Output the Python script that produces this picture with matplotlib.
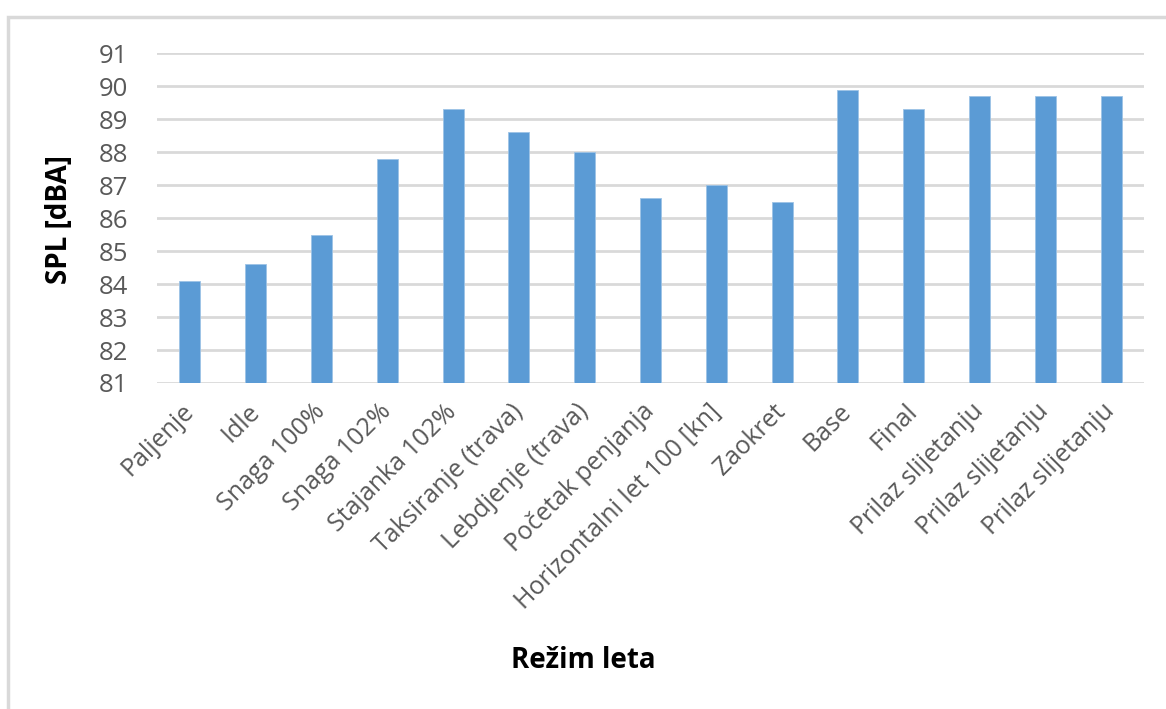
import matplotlib.pyplot as plt
from matplotlib.patches import Rectangle

# flight regimes and measured noise level
rezimi = ["Paljenje", "Idle", "Snaga 100%", "Snaga 102%", "Stajanka 102%",
          "Taksiranje (trava)", "Lebdjenje (trava)", "Početak penjanja",
          "Horizontalni let 100 [kn]", "Zaokret", "Base", "Final",
          "Prilaz slijetanju", "Prilaz slijetanju", "Prilaz slijetanju"]
spl = [84.1, 84.6, 85.5, 87.8, 89.3, 88.6, 88.0, 86.6, 87.0, 86.5,
       89.9, 89.3, 89.7, 89.7, 89.7]
yticks = [81, 82, 83, 84, 85, 86, 87, 88, 89, 90, 91]

plt.rcParams['font.family'] = ['Open Sans', 'DejaVu Sans']

W, H = 1166, 709
fig = plt.figure(figsize=(W / 100, H / 100), dpi=100)
ax = fig.add_axes([157 / W, 1 - 383 / H, (1144 - 157) / W, (383 - 53.3) / H])

# outer chart frame (cut off on the right and bottom like the screenshot)
fig.patches.append(Rectangle((8 / W, -0.01), 1.0, 1 - 17 / H + 0.01,
                             transform=fig.transFigure, fill=False,
                             edgecolor='#d9d9d9', linewidth=2.5))

x = list(range(len(rezimi)))
ax.bar(x, [v - 81 for v in spl], bottom=81, width=0.32, color='#5b9bd5',
       edgecolor='#9dc3e6', linewidth=0.6, zorder=3)

ax.set_xlim(-0.5, len(rezimi) - 0.5)
ax.set_ylim(81, 91)
ax.set_yticks(yticks)
ax.set_yticklabels([str(t) for t in yticks], fontsize=18.5, color='#595959')
ax.set_xticks(x)
ax.set_xticklabels(rezimi, rotation=45, ha='right', va='center',
                   rotation_mode='anchor', fontsize=18, color='#595959')
ax.tick_params(axis='y', length=0, pad=21)
ax.tick_params(axis='x', length=0, pad=18)
ax.grid(axis='y', color='#d9d9d9', linewidth=2, zorder=0)
for s in ax.spines.values():
    s.set_visible(False)

fig.text(59 / W, 1 - 220 / H, "SPL [dBA]", fontsize=20, fontweight='bold',
         rotation=90, ha='center', va='center')
fig.text(583 / W, 1 - 660 / H, "Režim leta", fontsize=20, fontweight='bold',
         ha='center', va='center')

fig.savefig("out.png", dpi=100, facecolor='white')
